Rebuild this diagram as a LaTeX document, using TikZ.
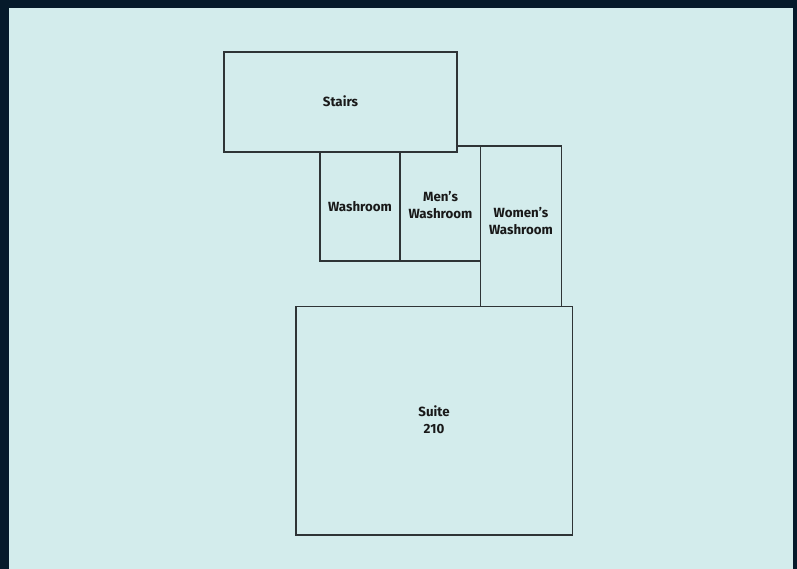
\documentclass[tikz,border=0pt]{standalone}
\usepackage{fontspec}
\setmainfont{Fira Sans}
\definecolor{navy}{HTML}{061A2B}
\definecolor{paper}{HTML}{D3ECEC}
\definecolor{wall}{HTML}{2E3436}
\begin{document}
\begin{tikzpicture}[x=1pt,y=-1pt,
  room/.style={draw=wall,line width=1.1pt},
  lbl/.style={font=\fontsize{13.3}{17}\selectfont\bfseries,text=black!90,align=center}]
\useasboundingbox (0,0) rectangle (797,569);
\fill[navy] (0,0) rectangle (797,569);
\fill[paper] (9,8) rectangle (793,569);
% rooms
\draw[room] (224,52) rectangle (457,152);
\draw[room] (320,152) rectangle (400,261);
\draw[room] (400,152) -- (400,261) -- (480.5,261);
\draw[room] (457,146) -- (480.5,146);
\draw[room] (480.5,146) rectangle (561.5,306.5);
\draw[room] (296,306.5) rectangle (572.5,535);
% labels
\node[lbl] (stairs) at (340.5,101) {Stairs};
\node[lbl] (wash) at (360,206.5) {Washroom};
\node[lbl] (mens) at (440.5,205) {Men’s\\Washroom};
\node[lbl] (womens) at (521,221) {Women’s\\Washroom};
\node[lbl] (suite) at (434,419.5) {Suite\\210};
\end{tikzpicture}
\end{document}
